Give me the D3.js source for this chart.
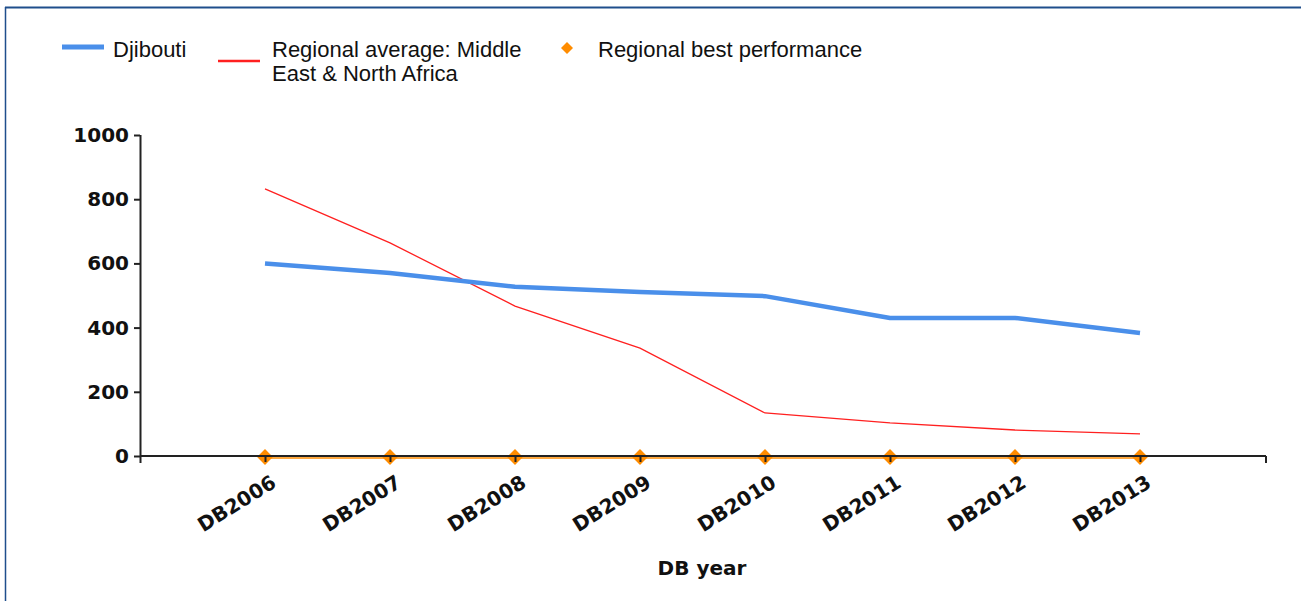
<!DOCTYPE html>
<html><head><meta charset="utf-8">
<script src="https://cdn.jsdelivr.net/npm/d3@7"></script>
<style>body{margin:0;background:#fff}svg{display:block}</style>
</head><body>
<svg id="c" width="1301" height="601"></svg>
<script>
const categories = ["DB2006","DB2007","DB2008","DB2009","DB2010","DB2011","DB2012","DB2013"];
const djibouti = [600, 570, 527, 511, 498, 430, 430, 383];
const regionalAverage = [832, 664, 467, 336, 134, 103, 81, 69];
const regionalBest = [0, 0, 0, 0, 0, 0, 0, 0];
const yTicks = [0, 200, 400, 600, 800, 1000];
const seriesNames = ["Djibouti", "Regional average: Middle East & North Africa", "Regional best performance"];

const svg = d3.select("#c");
// frame
svg.append("line").attr("x1",5).attr("x2",1301).attr("y1",7.5).attr("y2",7.5).attr("stroke","#1f4e8c").attr("stroke-width",2);
svg.append("line").attr("x1",5.5).attr("x2",5.5).attr("y1",7).attr("y2",601).attr("stroke","#1f4e8c").attr("stroke-width",1.5);

const x = d3.scalePoint().domain(categories).range([140,1265]).padding(1);
const y = d3.scaleLinear().domain([0,1000]).range([456,135]);

const axisFont = "'DejaVu Sans', Verdana, sans-serif";
// y axis
const ya = svg.append("g").attr("transform","translate(140,0)")
  .call(d3.axisLeft(y).tickValues(yTicks).tickFormat(d3.format("d")).tickSize(6).tickSizeOuter(0).tickPadding(5));
ya.select(".domain").remove();
ya.append("line").attr("x1",0.5).attr("x2",0.5).attr("y1",135).attr("y2",463).attr("stroke","#222").attr("stroke-width",2);
ya.selectAll(".tick line").attr("stroke","#222").attr("stroke-width",2);
ya.selectAll("text").attr("font-family",axisFont).attr("font-weight","bold").attr("font-size",20).attr("fill","#111");

const line = d3.line().x((d,i)=>x(categories[i])).y(d=>y(d));
// best performance line + diamonds
svg.append("path").datum(regionalBest).attr("d",line).attr("fill","none").attr("stroke","#FF8C00").attr("stroke-width",1.5).attr("transform","translate(0,2)");
svg.append("path").datum(regionalAverage).attr("d",line).attr("fill","none").attr("stroke","#FF2020").attr("stroke-width",1.3);
svg.append("path").datum(djibouti).attr("d",line).attr("fill","none").attr("stroke","#4A8FEA").attr("stroke-width",4.5).attr("stroke-linejoin","round");
const diamond = d3.symbol().type(d3.symbolSquare).size(125);
svg.selectAll(".best").data(regionalBest).enter().append("path")
  .attr("d",diamond).attr("fill","#FF8C00")
  .attr("transform",(d,i)=>`translate(${x(categories[i])},${y(d)+1}) rotate(45)`);

// x axis
const xa = svg.append("g").attr("transform","translate(0,456)")
  .call(d3.axisBottom(x).tickSize(6).tickSizeOuter(0));
xa.select(".domain").remove();
xa.append("line").attr("x1",140).attr("x2",1266).attr("y1",0).attr("y2",0).attr("stroke","#222").attr("stroke-width",2);
xa.append("line").attr("x1",1266).attr("x2",1266).attr("y1",0).attr("y2",7).attr("stroke","#222").attr("stroke-width",2);
xa.selectAll(".tick line").attr("stroke","#222").attr("stroke-width",2);
xa.selectAll(".tick text")
  .attr("font-family",axisFont).attr("font-weight","bold").attr("font-size",20).attr("fill","#111")
  .attr("text-anchor","end").attr("dy",0).attr("y",0)
  .attr("transform","translate(12,30) rotate(-32)");

svg.append("text").attr("x",702).attr("y",575).attr("text-anchor","middle")
  .attr("font-family",axisFont).attr("font-weight","bold").attr("font-size",20).attr("fill","#111").text("DB year");

// legend
const lf = "'Liberation Sans', Arial, sans-serif";
const lg = svg.append("g");
lg.append("line").attr("x1",62).attr("x2",104).attr("y1",47).attr("y2",47).attr("stroke","#4A8FEA").attr("stroke-width",5);
lg.append("text").attr("x",113).attr("y",57).attr("font-family",lf).attr("font-size",22).attr("fill","#111").text(seriesNames[0]);
lg.append("line").attr("x1",218).attr("x2",260).attr("y1",61).attr("y2",61).attr("stroke","#FF2020").attr("stroke-width",2.5);
const t2 = lg.append("text").attr("x",272).attr("y",57).attr("font-family",lf).attr("font-size",22).attr("fill","#111");
t2.append("tspan").attr("x",272).text("Regional average: Middle");
t2.append("tspan").attr("x",272).attr("dy",24).text("East & North Africa");
lg.append("path").attr("d",d3.symbol().type(d3.symbolSquare).size(72)).attr("fill","#FF8C00").attr("transform","translate(567,48) rotate(45)");
lg.append("text").attr("x",598).attr("y",57).attr("font-family",lf).attr("font-size",22).attr("fill","#111").text(seriesNames[2]);
</script>
</body></html>
